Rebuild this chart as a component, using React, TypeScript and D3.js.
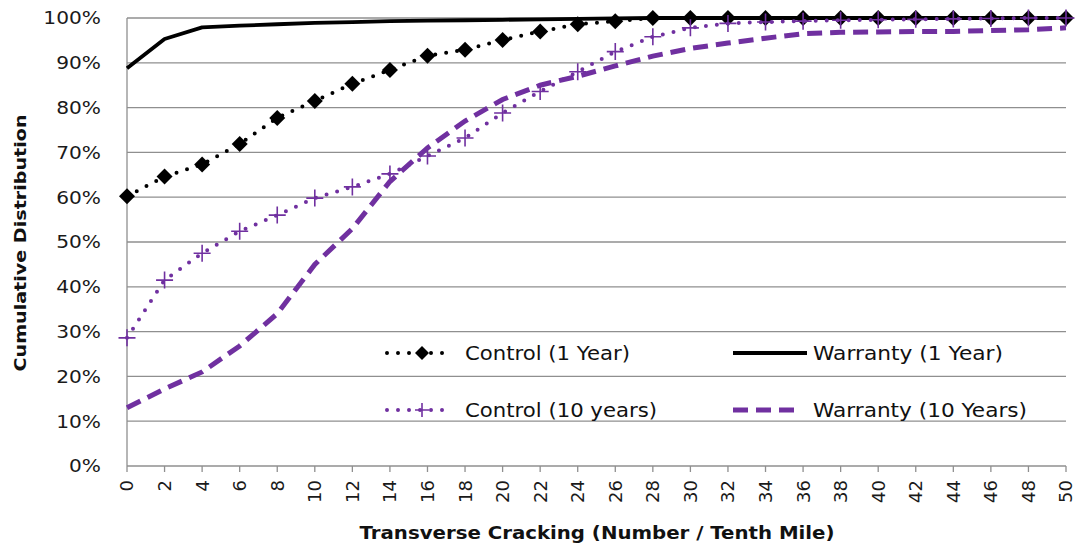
import React from "react";
import * as d3 from "d3";

const xValues = [0, 2, 4, 6, 8, 10, 12, 14, 16, 18, 20, 22, 24, 26, 28, 30, 32, 34, 36, 38, 40, 42, 44, 46, 48, 50];
const yTicks = [0, 10, 20, 30, 40, 50, 60, 70, 80, 90, 100];

const control1 = [60.2, 64.6, 67.3, 71.9, 77.7, 81.5, 85.3, 88.4, 91.6, 92.9, 95.1, 97.0, 98.6, 99.3, 100, 100, 100, 100, 100, 100, 100, 100, 100, 100, 100, 100];
const warranty1 = [88.8, 95.3, 97.9, 98.3, 98.6, 98.9, 99.1, 99.3, 99.4, 99.5, 99.6, 99.7, 99.8, 99.9, 100, 100, 100, 100, 100, 100, 100, 100, 100, 100, 100, 100];
const control10 = [28.6, 41.5, 47.5, 52.4, 56.0, 59.8, 62.3, 65.2, 69.2, 73.2, 78.8, 83.6, 88.0, 92.5, 95.8, 97.8, 98.8, 99.1, 99.3, 99.5, 99.6, 99.7, 99.8, 99.9, 100, 100];
const warranty10 = [13.0, 17.2, 21.0, 26.8, 34.0, 45.0, 53.0, 63.5, 71.0, 77.0, 81.8, 85.0, 87.0, 89.3, 91.5, 93.2, 94.4, 95.5, 96.5, 96.8, 96.9, 97.0, 97.0, 97.2, 97.4, 97.8];

const seriesNames = ["Control (1 Year)", "Warranty (1 Year)", "Control (10 years)", "Warranty (10 Years)"];

const PURPLE = "#7030A0";
const GRID = "#8f8f8f";
const FONT = "DejaVu Sans, Verdana, sans-serif";

const W = 1081;
const H = 550;
const left = 127;
const right = 1066;
const top = 18;
const bottom = 466;

function Diamond({ cx, cy, r }: { cx: number; cy: number; r: number }) {
  return <path d={`M${cx},${cy - r}L${cx + r},${cy}L${cx},${cy + r}L${cx - r},${cy}Z`} fill="#000" />;
}
function Cross({ cx, cy, r }: { cx: number; cy: number; r: number }) {
  return (
    <path d={`M${cx - r},${cy}H${cx + r}M${cx},${cy - r}V${cy + r}`} stroke={PURPLE} strokeWidth={1.6} fill="none" />
  );
}

export default function App() {
  const x = d3.scaleLinear().domain([0, 50]).range([left, right]);
  const y = d3.scaleLinear().domain([0, 100]).range([bottom, top]);
  const mk = (vals: number[]) =>
    d3.line<number>().x((_, i) => x(xValues[i])).y((v) => y(v)).curve(d3.curveLinear)(vals) as string;

  const legendRows = [353, 410];
  const legendCols = [387, 733];

  return (
    <svg width={W} height={H} style={{ position: "absolute", left: 0, top: 0, background: "#fff" }}>
      {yTicks.map((t) => (
        <line key={t} x1={left} x2={right} y1={y(t)} y2={y(t)} stroke={GRID} strokeWidth={1.3} />
      ))}
      <line x1={left} x2={left} y1={top} y2={bottom} stroke={GRID} strokeWidth={1.3} />
      {xValues.map((v) => (
        <line key={v} x1={x(v)} x2={x(v)} y1={bottom} y2={bottom + 6} stroke={GRID} strokeWidth={1.3} />
      ))}
      {yTicks.map((t) => (
        <text
          key={t}
          transform={`translate(101,${y(t)}) scale(1.12,1)`}
          dy="0.36em"
          textAnchor="end"
          fontFamily={FONT}
          fontSize={18}
          fill="#1a1a1a"
        >
          {t}%
        </text>
      ))}
      {xValues.map((v) => (
        <text
          key={v}
          transform={`translate(${x(v)},${bottom + 14}) rotate(-90)`}
          dy="0.36em"
          textAnchor="end"
          fontFamily={FONT}
          fontSize={18}
          fill="#1a1a1a"
        >
          {v}
        </text>
      ))}
      <text
        transform={`translate(20,243) rotate(-90)`}
        dy="0.36em"
        textAnchor="middle"
        fontFamily={FONT}
        fontWeight="bold"
        fontSize={16}
        textLength={257}
        lengthAdjust="spacingAndGlyphs"
        fill="#111"
      >
        Cumulative Distribution
      </text>
      <text
        x={597}
        y={533}
        dy="0.36em"
        textAnchor="middle"
        fontFamily={FONT}
        fontWeight="bold"
        fontSize={18}
        textLength={475}
        lengthAdjust="spacingAndGlyphs"
        fill="#111"
      >
        Transverse Cracking (Number / Tenth Mile)
      </text>

      <path d={mk(control1)} fill="none" stroke="#000" strokeWidth={4} strokeDasharray="0 11" strokeLinecap="round" />
      {control1.map((v, i) => (
        <Diamond key={i} cx={x(xValues[i])} cy={y(v)} r={8} />
      ))}
      <path d={mk(warranty1)} fill="none" stroke="#000" strokeWidth={3.8} strokeLinejoin="round" />
      <path d={mk(control10)} fill="none" stroke={PURPLE} strokeWidth={4} strokeDasharray="0 11" strokeLinecap="round" />
      {control10.map((v, i) => (
        <Cross key={i} cx={x(xValues[i])} cy={y(v)} r={8.5} />
      ))}
      <path d={mk(warranty10)} fill="none" stroke={PURPLE} strokeWidth={5} strokeDasharray="15 8" />

      <g>
        <line x1={legendCols[0]} x2={legendCols[0] + 62} y1={legendRows[0]} y2={legendRows[0]} stroke="#000" strokeWidth={4} strokeDasharray="0 11" strokeLinecap="round" />
        <Diamond cx={legendCols[0] + 35} cy={legendRows[0]} r={7} />
        <text x={465} y={legendRows[0]} dy="0.36em" fontFamily={FONT} fontSize={19} textLength={165} lengthAdjust="spacingAndGlyphs" fill="#111">
          {seriesNames[0]}
        </text>
        <line x1={legendCols[1]} x2={807} y1={legendRows[0]} y2={legendRows[0]} stroke="#000" strokeWidth={4} />
        <text x={813} y={legendRows[0]} dy="0.36em" fontFamily={FONT} fontSize={19} textLength={190} lengthAdjust="spacingAndGlyphs" fill="#111">
          {seriesNames[1]}
        </text>
        <line x1={legendCols[0]} x2={legendCols[0] + 62} y1={legendRows[1]} y2={legendRows[1]} stroke={PURPLE} strokeWidth={4} strokeDasharray="0 11" strokeLinecap="round" />
        <Cross cx={legendCols[0] + 35} cy={legendRows[1]} r={7} />
        <text x={465} y={legendRows[1]} dy="0.36em" fontFamily={FONT} fontSize={19} textLength={192} lengthAdjust="spacingAndGlyphs" fill="#111">
          {seriesNames[2]}
        </text>
        <line x1={legendCols[1]} x2={800} y1={legendRows[1]} y2={legendRows[1]} stroke={PURPLE} strokeWidth={5} strokeDasharray="15 8" />
        <text x={813} y={legendRows[1]} dy="0.36em" fontFamily={FONT} fontSize={19} textLength={214} lengthAdjust="spacingAndGlyphs" fill="#111">
          {seriesNames[3]}
        </text>
      </g>
    </svg>
  );
}
